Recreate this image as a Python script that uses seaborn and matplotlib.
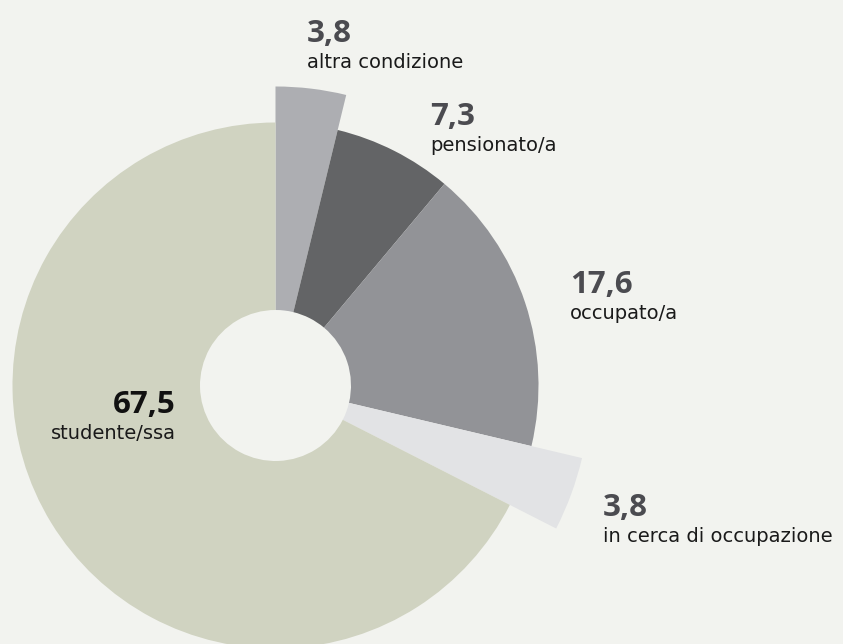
import numpy as np
import matplotlib.pyplot as plt
import seaborn as sns

# data
categories = ['altra condizione', 'pensionato/a', 'occupato/a',
              'in cerca di occupazione', 'studente/ssa']
values = [3.8, 7.3, 17.6, 3.8, 67.5]
value_labels = ['3,8', '7,3', '17,6', '3,8', '67,5']

# style
colors = ['#adaeb2', '#636466', '#929397', '#e2e3e5', '#d0d3c1']
outer_r = [299, 263, 263, 315, 263]   # emphasised slices stick out
inner_r = 75.5
bg = '#f2f3ef'
num_colors = ['#4b4b50', '#4b4b50', '#4b4b50', '#4b4b50', '#111111']
# (x, baseline y, alignment) in pixels for each label block
label_pos = [(307, 42, 'left'), (430, 125, 'left'), (570, 293, 'left'),
             (603, 516, 'left'), (176, 413, 'right')]

sns.set_theme(style='white', rc={'figure.facecolor': bg, 'axes.facecolor': bg})

W, H = 843, 644
fig = plt.figure(figsize=(W / 100, H / 100), dpi=100)
cx, cy, rmax = 275.5, 385.5, 330
ax = fig.add_axes([(cx - rmax) / W, (H - cy - rmax) / H, 2 * rmax / W, 2 * rmax / H],
                  projection='polar')
ax.set_theta_zero_location('N')
ax.set_theta_direction(-1)

widths = np.array(values) / sum(values) * 2 * np.pi
starts = np.concatenate([[0], np.cumsum(widths)[:-1]])
ax.bar(starts, np.array(outer_r) - inner_r, width=widths, bottom=inner_r,
       align='edge', color=colors, linewidth=0)
ax.set_ylim(0, rmax)
ax.set_axis_off()

for lab, num, col, (x, y, ha) in zip(categories, value_labels, num_colors, label_pos):
    fig.text(x / W, 1 - y / H, num, ha=ha, va='baseline', color=col,
             family=['Open Sans', 'DejaVu Sans'], weight='bold', fontsize=22.5)
    fig.text(x / W, 1 - (y + 26) / H, lab, ha=ha, va='baseline', color='#1a1a1a',
             family=['DejaVu Sans'], fontsize=14)

fig.savefig('out.png', dpi=100, facecolor=bg)
